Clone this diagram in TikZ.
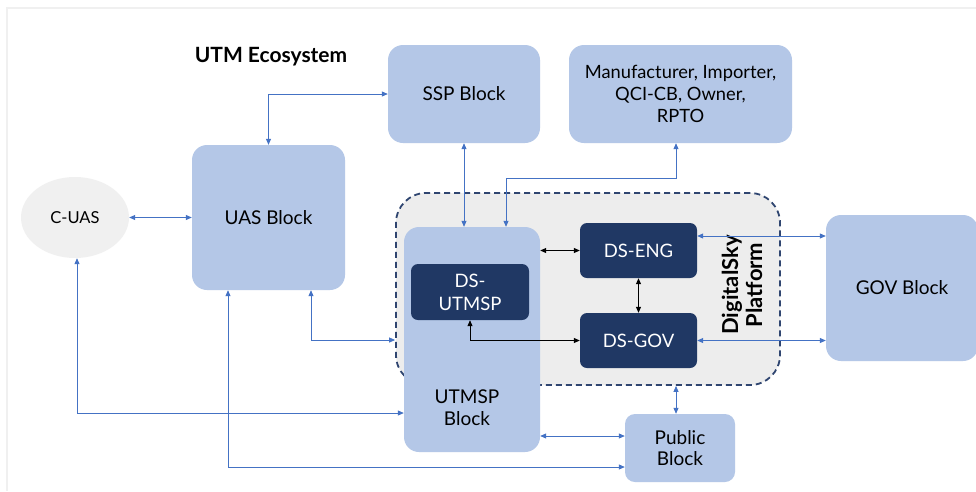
\documentclass[tikz,border=0pt]{standalone}
\usepackage{fontspec}
\setmainfont{Lato}
\usetikzlibrary{arrows.meta,shapes.geometric,calc}
\definecolor{lblue}{HTML}{B4C7E7}
\definecolor{navy}{HTML}{203864}
\definecolor{arrblue}{HTML}{4472C4}
\definecolor{platgray}{HTML}{EDEDED}
\definecolor{dashnavy}{HTML}{2F4570}
\tikzset{
  block/.style={rectangle, rounded corners=15pt, fill=lblue, draw=none, align=center, inner sep=0pt, font=\fontsize{19}{23}\selectfont, text=black},
  dsblock/.style={rectangle, rounded corners=7pt, fill=navy, draw=none, align=center, inner sep=0pt, font=\fontsize{18.5}{23}\selectfont, text=white},
  barr/.style={draw=arrblue, line width=0.8pt, {Triangle[length=6pt,width=5pt]}-{Triangle[length=6pt,width=5pt]}},
  karr/.style={draw=black, line width=0.8pt, {Triangle[length=6pt,width=5pt]}-{Triangle[length=6pt,width=5pt]}},
}
\begin{document}
\begin{tikzpicture}[x=1pt,y=-1pt]
\useasboundingbox (0,0) rectangle (976,491);
\fill[white] (0,0) rectangle (976,491);
\draw[color=black!6, line width=2.5pt] (7,491) -- (7,8) -- (976,8);

\node[font=\bfseries\fontsize{21}{24}\selectfont] (title) at (271,57) {UTM Ecosystem};

\node[block, minimum width=152pt, minimum height=98pt] (ssp) at (464,94) {SSP Block};
\node[block, minimum width=223pt, minimum height=98pt, font=\fontsize{18.3}{22}\selectfont] (mfr) at (680.5,94) {Manufacturer, Importer,\\QCI-CB, Owner,\\RPTO};
\node[block, minimum width=153pt, minimum height=145pt] (uas) at (268.5,217.5) {UAS Block};
\node[ellipse, fill=black!6, minimum width=108pt, minimum height=81pt, inner sep=0pt, font=\fontsize{16.5}{20}\selectfont] (cuas) at (75,217.5) {C-UAS};

\node[rectangle, rounded corners=30pt, fill=platgray, draw=dashnavy, line width=1.8pt, dash pattern=on 6pt off 4pt, minimum width=384pt, minimum height=192pt, inner sep=0pt] (dsp) at (588,289) {};
\node[rotate=90, align=center, font=\bfseries\fontsize{22}{24}\selectfont] (dsptxt) at (742,285) {DigitalSky\\Platform};

\node[block, minimum width=136pt, minimum height=225pt] (utmsp) at (472,339.5) {};
\node[font=\fontsize{19}{22}\selectfont, align=center] (utmsptxt) at (467,408) {UTMSP\\Block};
\node[dsblock, minimum width=118pt, minimum height=56pt] (dsutmsp) at (470,292) {DS-\\UTMSP};
\node[dsblock, minimum width=117pt, minimum height=55pt] (dseng) at (638.5,250.5) {DS-ENG};
\node[dsblock, minimum width=117pt, minimum height=55pt] (dsgov) at (638.5,340.5) {DS-GOV};

\node[block, minimum width=152pt, minimum height=146pt] (gov) at (902,288) {GOV Block};
\node[block, minimum width=110pt, minimum height=68pt, rounded corners=10pt, font=\fontsize{19}{21}\selectfont] (pub) at (680,448) {Public\\Block};

% blue connectors
\draw[barr] (uas.north) |- (ssp.west);
\draw[barr] (cuas.east) -- (uas.west);
\draw[barr] (ssp.south) -- (ssp.south |- utmsp.north);
\draw[barr] ([xshift=-4.5pt]mfr.south) -- ++(0,35) -| ([xshift=34pt]utmsp.north);
\draw[barr] ([xshift=42.5pt]uas.south) |- ([yshift=-51pt]dsp.west);
\draw[barr] ([xshift=-40.5pt]uas.south) |- ([yshift=-19pt]pub.west);
\draw[barr] ([xshift=2pt]cuas.south) |- ([yshift=-73.5pt]utmsp.west);
\draw[barr] ([yshift=12pt]pub.west) -- ([yshift=12pt]pub.west -| utmsp.east);
\draw[barr] ([xshift=-4pt]pub.north) -- ([xshift=-4pt]pub.north |- dsp.south);
\draw[barr] ([yshift=14.5pt]dseng.east) -- ([yshift=14.5pt]dseng.east -| gov.west);
\draw[barr] (dsgov.east) -- (dsgov.east -| gov.west);

% black connectors
\draw[karr] (dseng.west) -- (dseng.west -| utmsp.east);
\draw[karr] (dseng.south) -- (dsgov.north);
\draw[karr] (dsutmsp.south) |- (dsgov.west);
\end{tikzpicture}
\end{document}
